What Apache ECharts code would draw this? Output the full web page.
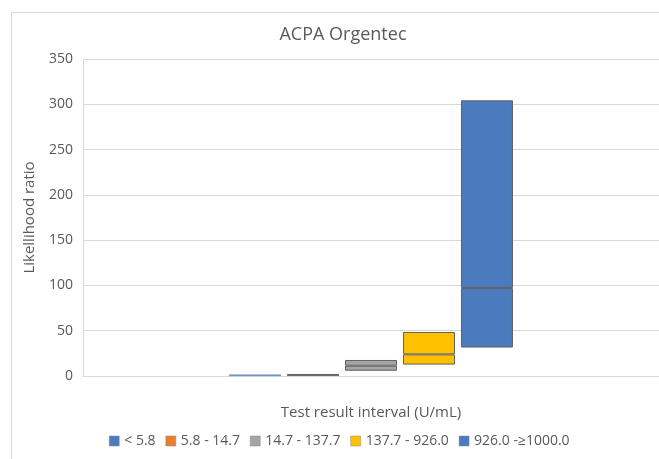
<!DOCTYPE html>
<html>
<head>
<meta charset="utf-8">
<script src="https://cdn.jsdelivr.net/npm/echarts@6/dist/echarts.min.js"></script>
<style>
html,body{margin:0;padding:0;background:#fff;}
#chart{width:659px;height:459px;}
</style>
</head>
<body>
<div id="chart"></div>
<script>
var categories = ['ACPA Orgentec'];
var intervals = ['< 5.8', '5.8 - 14.7', '14.7 - 137.7', '137.7 - 926.0', '926.0 -≥1000.0'];
var colors = ['#4a7bbf', '#ed7d31', '#a5a5a5', '#ffc000', '#4a7bbf'];
var borders = ['#6f95cc', '#616161', '#616161', '#616161', '#616161'];
// likelihood ratio per interval: lower bound, point estimate, upper bound
var lowVals = [0.3, 0.7, 5.8, 12.6, 31.4];
var midVals = [0.6, 1.1, 11.3, 23.9, 97.2];
var highVals = [1.2, 1.8, 17.7, 48.6, 304.4];
var yTicks = [0, 50, 100, 150, 200, 250, 300, 350];

var font = 'Open Sans';
var textColor = '#595959';

var series = [];
for (var i = 0; i < intervals.length; i++) {
	var stackName = 's' + i;
	series.push({
		name: 'base' + i,
		type: 'bar',
		stack: stackName,
		barWidth: 52,
		barGap: '11.5%',
		silent: true,
		itemStyle: { color: 'transparent' },
		data: [lowVals[i]]
	});
	series.push({
		name: intervals[i],
		type: 'bar',
		stack: stackName,
		barWidth: 52,
		barGap: '11.5%',
		itemStyle: { color: colors[i], borderColor: borders[i], borderWidth: 1 },
		data: [midVals[i] - lowVals[i]]
	});
	series.push({
		name: intervals[i],
		type: 'bar',
		stack: stackName,
		barWidth: 52,
		barGap: '11.5%',
		itemStyle: { color: colors[i], borderColor: borders[i], borderWidth: 1 },
		data: [highVals[i] - midVals[i]]
	});
}

var myChart = echarts.init(document.getElementById('chart'));
var option = {
	animation: false,
	color: colors,
	title: {
		text: 'ACPA Orgentec',
		left: 338,
		top: 21,
		textAlign: 'center',
		textStyle: { fontFamily: font, fontSize: 18, fontWeight: 'normal', color: textColor }
	},
	graphic: [{
		type: 'rect',
		shape: { x: 11.5, y: 12.5, width: 700, height: 500 },
		style: { fill: 'none', stroke: '#d9d9d9', lineWidth: 1 },
		silent: true
	}],
	legend: {
		data: intervals,
		left: 104,
		top: 429,
		width: 540,
		itemWidth: 10,
		itemHeight: 10,
		itemGap: 10,
		icon: 'rect',
		itemStyle: { borderColor: '#8a8a8a', borderWidth: 0.5 },
		textStyle: { fontFamily: font, fontSize: 14, color: textColor }
	},
	grid: { left: 83, right: 0, top: 59, bottom: 83 },
	xAxis: [{
		type: 'category',
		data: categories,
		axisLabel: { show: false },
		axisTick: { show: false },
		axisLine: { lineStyle: { color: '#d9d9d9' } },
		name: 'Test result interval (U/mL)',
		nameLocation: 'middle',
		nameGap: 29,
		nameTextStyle: { fontFamily: font, fontSize: 15, color: textColor }
	}],
	yAxis: [{
		type: 'value',
		min: yTicks[0],
		max: yTicks[yTicks.length - 1],
		interval: 50,
		axisLine: { show: true, lineStyle: { color: '#d9d9d9' } },
		axisTick: { show: false },
		axisLabel: { fontFamily: font, fontSize: 14, color: textColor, margin: 10 },
		splitLine: { lineStyle: { color: '#d9d9d9' } },
		name: 'Likellihood ratio',
		nameLocation: 'middle',
		nameGap: 46,
		nameTextStyle: { fontFamily: font, fontSize: 15, color: textColor }
	}],
	series: series
};
myChart.setOption(option);
</script>
</body>
</html>
